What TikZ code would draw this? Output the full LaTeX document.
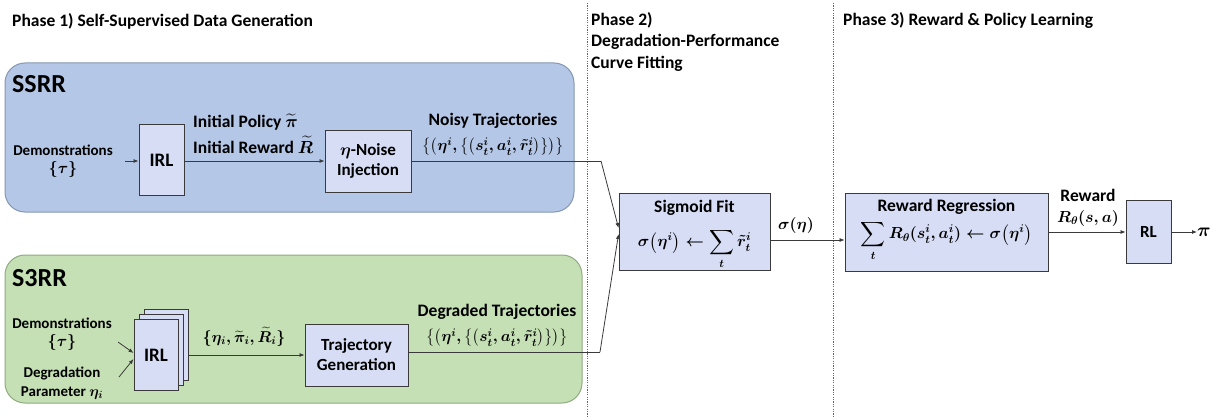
\RequirePackage{fix-cm}
\documentclass[tikz,border=0pt]{standalone}
\usepackage{fontspec}
\setmainfont{Carlito}
\usepackage{amsmath}
\usetikzlibrary{calc,arrows.meta}
\definecolor{ssrrfill}{HTML}{B4C7E7}
\definecolor{ssrrdraw}{HTML}{8497B0}
\definecolor{sthreefill}{HTML}{C5E0B4}
\definecolor{sthreedraw}{HTML}{8FAA80}
\definecolor{blockfill}{HTML}{D6DDF4}
\definecolor{linec}{HTML}{3A3A3A}
\tikzset{
  blk/.style={draw=linec, fill=blockfill, line width=0.9pt, inner sep=0pt, font=\bfseries\fontsize{17}{19}\selectfont},
  grp/.style={rounded corners=20pt, line width=1pt},
  lbl/.style={inner sep=0pt, font=\bfseries\fontsize{17.5}{19}\selectfont},
  small/.style={inner sep=0pt, font=\bfseries\fontsize{15}{17}\selectfont},
  ttl/.style={inner sep=0pt, anchor=west, font=\bfseries\fontsize{17.5}{19}\selectfont},
  mth/.style={inner sep=0pt, font=\fontsize{16}{19}\selectfont\boldmath},
  mths/.style={inner sep=0pt, font=\fontsize{15.7}{18}\selectfont\boldmath},
  arr/.style={draw=linec, line width=0.8pt, -{Latex[length=5pt,width=4pt]}},
  ln/.style={draw=linec, line width=0.8pt},
  phase/.style={draw=gray!80!black, line width=0.6pt, dash pattern=on 1.2pt off 1.2pt}
}
\begin{document}
\begin{tikzpicture}[x=1pt,y=-1pt]
\useasboundingbox (0,0) rectangle (1214,417);
% phase separators
\draw[phase] (587,3) -- (587,417);
\draw[phase] (833,3) -- (833,417);
% titles
\node[ttl] (t1) at (12,21) {Phase 1) Self-Supervised Data Generation};
\node[ttl] (t2a) at (591,20) {Phase 2)};
\node[ttl] (t2b) at (591,42) {Degradation-Performance};
\node[ttl] (t2c) at (591,64) {Curve Fitting};
\node[ttl] (t3) at (843,20) {Phase 3) Reward \& Policy Learning};
% group boxes
\draw[grp, fill=ssrrfill, draw=ssrrdraw] (5,63) rectangle (574,212);
\draw[grp, fill=sthreefill, draw=sthreedraw] (5,255) rectangle (582,403);
\node[inner sep=0pt, anchor=west, font=\bfseries\fontsize{26}{28}\selectfont] (ssrr) at (12,84) {SSRR};
\node[inner sep=0pt, anchor=west, font=\bfseries\fontsize{26}{28}\selectfont] (s3rr) at (12,278) {S3RR};
% SSRR row
\node[small] (demo1) at (63,150) {Demonstrations};
\node[mth] (tau1) at (63,169) {$\{\tau\}$};
\coordinate (in1) at (125,161);
\node[blk, minimum width=45pt, minimum height=71pt, font=\bfseries\fontsize{19}{21}\selectfont] (irl1) at (161.5,160) {IRL};
\node[blk, minimum width=86pt, minimum height=62pt, align=center] (noise) at (368,161) {$\boldsymbol{\eta}$-Noise\\[1pt]Injection};
\draw[arr] (in1) -- (irl1.west |- in1);
\draw[arr] (irl1.east |- noise.west) -- (noise.west);
\node[lbl, anchor=west] (ip) at (193,122) {Initial Policy $\boldsymbol{\widetilde{\pi}}$};
\node[lbl, anchor=west] (ir) at (193,145) {Initial Reward $\boldsymbol{\widetilde{R}}$};
\node[lbl] (noisyl) at (493,121) {Noisy Trajectories};
\node[mths] (noisyf) at (493,147) {$\bigl\{\bigl(\eta^{i},\bigl\{\bigl(s_t^{i},a_t^{i},\tilde{r}_t^{i}\bigr)\bigr\}\bigr)\bigr\}$};
% S3RR row
\node[small] (demo2) at (62,323) {Demonstrations};
\node[mth] (tau2) at (62,342) {$\{\tau\}$};
\node[small] (deg) at (62,373) {Degradation};
\node[small] (par) at (62,393) {Parameter $\boldsymbol{\eta_i}$};
\node[blk, minimum width=44pt, minimum height=71pt] (irlC) at (166,345) {};
\node[blk, minimum width=44pt, minimum height=71pt] (irlB) at (161,350) {};
\node[blk, minimum width=44pt, minimum height=71pt, font=\bfseries\fontsize{19}{21}\selectfont] (irlA) at (156,355) {IRL};
\coordinate (d2) at (118,342);
\coordinate (p2) at (119,377);
\draw[arr] (d2) -- ($(irlA.west)+(0,-2)$);
\draw[arr] (p2) -- ($(irlA.west)+(0,4)$);
\node[blk, minimum width=103pt, minimum height=62pt, align=center] (traj) at (356.5,355) {Trajectory\\[1pt]Generation};
\draw[arr] (irlC.east |- irlA.east) -- (traj.west);
\node[mths] (etal) at (244,337) {$\{\eta_i,\widetilde{\pi}_i,\widetilde{R}_i\}$};
\node[lbl] (degl) at (497,312) {Degraded Trajectories};
\node[mths] (degf) at (497,338) {$\bigl\{\bigl(\eta^{i},\bigl\{\bigl(s_t^{i},a_t^{i},\tilde{r}_t^{i}\bigr)\bigr\}\bigr)\bigr\}$};
% Phase 2
\node[blk, minimum width=151pt, minimum height=77pt] (sig) at (694.5,231.5) {};
\node[lbl] (sigl) at (694.5,208) {Sigmoid Fit};
\node[mth] (sigf) at (694.5,249) {$\displaystyle \sigma\bigl(\eta^{i}\bigr)\leftarrow\sum_{t}\tilde{r}_t^{i}$};
\coordinate (j1) at (601,161);
\coordinate (j2) at (600,352);
\draw[ln] (noise.east) -- (j1);
\draw[arr] (j1) -- ($(sig.west)+(0,-3.5)$);
\draw[ln] (traj.east |- j2) -- (j2);
\draw[arr] (j2) -- ($(sig.west)+(0,2.5)$);
\node[mth] (sigeta) at (796,225) {$\sigma(\eta)$};
% Phase 3
\node[blk, minimum width=203pt, minimum height=78pt] (rr) at (946.5,232) {};
\node[lbl] (rrl) at (946.5,207) {Reward Regression};
\node[mth] (rrf) at (946.5,241) {$\displaystyle \sum_{t}R_{\theta}(s_t^{i},a_t^{i})\leftarrow\sigma\bigl(\eta^{i}\bigr)$};
\draw[arr] ($(sig.east)+(0,8.5)$) -- ($(rr.west)+(0,8)$);
\node[blk, minimum width=45pt, minimum height=63pt] (rl) at (1148.5,232) {RL};
\draw[arr] (rr.east) -- (rl.west);
\node[lbl] (rewl) at (1088,195) {Reward};
\node[mth] (rewf) at (1088,218) {$R_{\theta}(s,a)$};
\node[mth, anchor=west, font=\fontsize{19}{21}\selectfont\boldmath] (pi) at (1197,232) {$\pi$};
\draw[arr] (rl.east) -- (pi.west);
\end{tikzpicture}
\end{document}
